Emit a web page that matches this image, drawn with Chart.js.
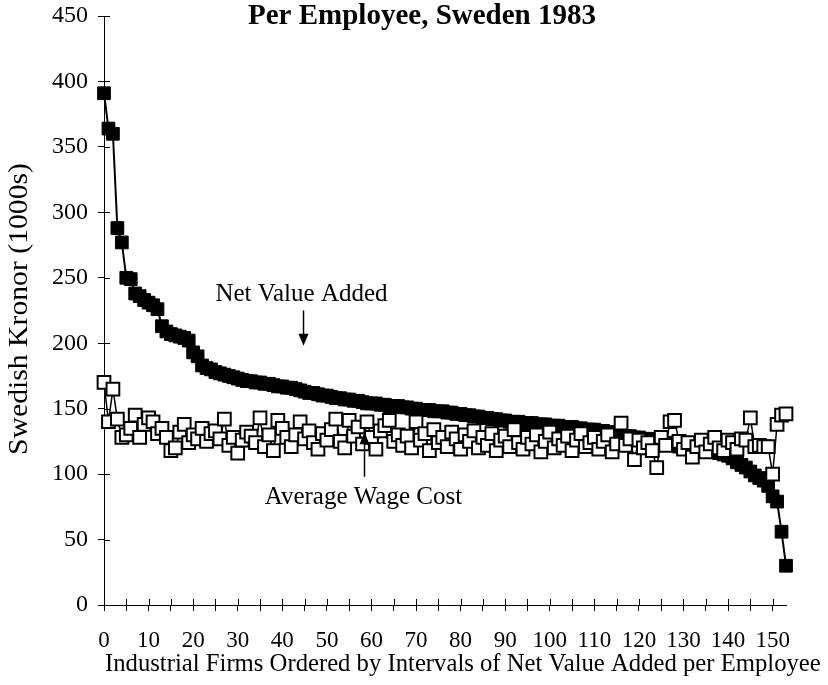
<!DOCTYPE html>
<html>
<head>
<meta charset="utf-8">
<script src="https://cdn.jsdelivr.net/npm/chart.js@4.4.1/dist/chart.umd.min.js"></script>
<style>
  html, body { margin: 0; padding: 0; background: #fff; }
  #wrap { width: 828px; height: 685px; position: relative; }
</style>
</head>
<body>
<div id="wrap"><canvas id="chart" width="828" height="685"></canvas></div>
<script>
    // Firms ordered by net value added per employee (1000s SEK)
    const netValueAdded = [
        391, 364, 360, 288, 277, 250, 249, 238, 236, 233,
        231, 229, 226, 213, 209, 207, 206, 205, 204, 202,
        193, 190, 183, 181, 180, 178, 177, 176, 175, 174,
        173, 172, 171, 171, 170, 170, 169, 169, 168, 167,
        167, 166, 166, 165, 164, 163, 162, 162, 161, 160,
        160, 159, 158, 158, 157, 157, 156, 156, 155, 154,
        154, 154, 153, 153, 152, 152, 152, 151, 151, 150,
        150, 149, 149, 149, 148, 148, 148, 147, 147, 146,
        146, 145, 145, 144, 144, 143, 143, 142, 142, 141,
        141, 140, 140, 140, 139, 139, 139, 138, 138, 138,
        137, 137, 137, 136, 136, 136, 135, 135, 134, 134,
        134, 133, 133, 132, 132, 131, 130, 129, 129, 128,
        128, 127, 127, 126, 125, 125, 124, 123, 122, 121,
        121, 120, 120, 119, 119, 118, 118, 117, 116, 115,
        114, 112, 109, 107, 105, 102, 99, 97, 95, 91,
        83, 79, 56, 30
    ];

    const averageWageCost = [
        170, 140, 165, 142, 128, 130, 135, 145, 128, 138,
        143, 140, 131, 135, 128, 118, 120, 132, 138, 124,
        130, 127, 135, 125, 131, 133, 127, 142, 122, 128,
        116, 126, 132, 129, 124, 143, 121, 130, 118, 141,
        135, 128, 121, 130, 140, 127, 133, 124, 119, 131,
        126, 134, 142, 125, 120, 141, 129, 136, 123, 140,
        128, 119, 133, 137, 141, 125, 130, 122, 129, 120,
        140, 126, 131, 118, 134, 124, 128, 121, 132, 127,
        119, 130, 125, 133, 120, 128, 122, 131, 118, 126,
        129, 121, 134, 124, 119, 128, 123, 130, 117, 125,
        132, 120, 127, 122, 129, 118, 126, 131, 121, 124,
        128, 119, 125, 130, 117, 123, 139, 122, 127, 111,
        126, 120, 124, 118, 105, 128, 122, 140, 141, 125,
        119, 124, 113, 121, 126, 117, 123, 128, 120, 118,
        126, 124, 119, 127, 126, 143, 121, 122, 121, 121,
        100, 138, 145, 146
    ];

    const xTicks = [0, 5, 10, 15, 20, 25, 30, 35, 40, 45, 50, 55, 60, 65, 70, 75,
                    80, 85, 90, 95, 100, 105, 110, 115, 120, 125, 130, 135, 140, 145, 150];
    const yTicks = [0, 50, 100, 150, 200, 250, 300, 350, 400, 450];

    const notes = [
        { text: 'Net Value Added', x: 44.3, y: 237, arrowX: 44.7, from: 225, to: 198 },
        { text: 'Average Wage Cost', x: 58.2, y: 82.5, arrowX: 58.4, from: 98, to: 132 }
    ];

    const serif = "'Liberation Serif', 'Times New Roman', serif";

    const toPoints = arr => arr.map((v, i) => ({ x: i, y: v }));

    // inside half of the axis ticks, titles and the two arrow notes
    const overlay = {
        id: 'overlay',
        beforeDatasetsDraw(chart) {
            const { ctx, scales: { x, y } } = chart;
            ctx.save();
            ctx.strokeStyle = '#000';
            ctx.lineWidth = 1;
            ctx.beginPath();
            yTicks.forEach(v => {
                const py = Math.round(y.getPixelForValue(v)) + 0.5;
                ctx.moveTo(x.left, py);
                ctx.lineTo(x.left + 6, py);
            });
            xTicks.forEach(v => {
                const px = Math.round(x.getPixelForValue(v)) + 0.5;
                ctx.moveTo(px, y.bottom);
                ctx.lineTo(px, y.bottom - 6);
            });
            ctx.stroke();
            ctx.restore();
        },
        afterDatasetsDraw(chart) {
            const { ctx, scales: { x, y } } = chart;
            ctx.save();
            ctx.fillStyle = '#000';
            ctx.strokeStyle = '#000';
            ctx.font = '25px ' + serif;
            ctx.textAlign = 'center';
            ctx.textBaseline = 'middle';
            notes.forEach(n => {
                ctx.fillText(n.text, x.getPixelForValue(n.x), y.getPixelForValue(n.y));
                const ax = Math.round(x.getPixelForValue(n.arrowX)) + 0.5;
                const y0 = y.getPixelForValue(n.from);
                const y1 = y.getPixelForValue(n.to);
                const dir = y1 > y0 ? 1 : -1;
                ctx.lineWidth = 1.5;
                ctx.beginPath();
                ctx.moveTo(ax, y0);
                ctx.lineTo(ax, y1 - dir * 10);
                ctx.stroke();
                ctx.beginPath();
                ctx.moveTo(ax, y1);
                ctx.lineTo(ax - 5, y1 - dir * 12);
                ctx.lineTo(ax + 5, y1 - dir * 12);
                ctx.closePath();
                ctx.fill();
            });
            // chart title (top of it is cut off in the source)
            ctx.font = 'bold 29px ' + serif;
            ctx.textBaseline = 'alphabetic';
            ctx.fillText('Per Employee, Sweden 1983', 422, 24);
            // x axis title
            ctx.font = '24.7px ' + serif;
            ctx.textAlign = 'left';
            ctx.textBaseline = 'middle';
            ctx.fillText('Industrial Firms Ordered by Intervals of Net Value Added per Employee', 105, 665);
            // y axis title, a little stretched along its length
            ctx.translate(20, 309);
            ctx.rotate(-Math.PI / 2);
            ctx.scale(1.1, 1);
            ctx.textAlign = 'center';
            ctx.font = '27px ' + serif;
            ctx.fillText('Swedish Kronor (1000s)', 0, 0);
            ctx.restore();
        }
    };

    new Chart(document.getElementById('chart'), {
        type: 'scatter',
        data: {
            datasets: [{
                label: 'Average Wage Cost',
                data: toPoints(averageWageCost),
                showLine: true,
                borderColor: '#000',
                borderWidth: 1.5,
                backgroundColor: '#fff',
                pointStyle: 'rect',
                pointRadius: 9,
                pointBorderWidth: 2,
                pointBackgroundColor: '#fff',
                pointBorderColor: '#000',
                clip: false
            }, {
                label: 'Net Value Added',
                data: toPoints(netValueAdded),
                showLine: true,
                borderColor: '#000',
                borderWidth: 2,
                backgroundColor: '#000',
                pointStyle: 'rect',
                pointRadius: 9,
                pointBorderWidth: 1,
                pointBackgroundColor: '#000',
                pointBorderColor: '#000',
                clip: false
            }]
        },
        options: {
            responsive: false,
            animation: false,
            events: [],
            layout: { padding: { top: 16, right: 42, left: 0, bottom: 0 } },
            plugins: {
                legend: { display: false },
                tooltip: { enabled: false }
            },
            scales: {
                x: {
                    type: 'linear',
                    min: 0,
                    max: 153,
                    afterBuildTicks: s => { s.ticks = xTicks.map(v => ({ value: v })); },
                    afterFit: s => { s.height = 80; },
                    grid: { drawOnChartArea: false, drawTicks: true, tickLength: 6, color: '#000' },
                    border: { display: true, color: '#000', width: 1 },
                    ticks: {
                        autoSkip: false,
                        maxRotation: 0,
                        padding: 16,
                        color: '#000',
                        font: { family: serif, size: 23 },
                        callback: v => (v % 10 === 0 ? String(v) : '')
                    }
                },
                y: {
                    min: 0,
                    max: 450,
                    afterBuildTicks: s => { s.ticks = yTicks.map(v => ({ value: v })); },
                    afterFit: s => { s.width = 104; s.paddingTop = 0; s.paddingBottom = 0; },
                    grid: { drawOnChartArea: false, drawTicks: true, tickLength: 6, color: '#000' },
                    border: { display: true, color: '#000', width: 1 },
                    ticks: {
                        padding: 10,
                        color: '#000',
                        font: { family: serif, size: 24 }
                    }
                }
            }
        },
        plugins: [overlay]
    });
</script>
</body>
</html>
